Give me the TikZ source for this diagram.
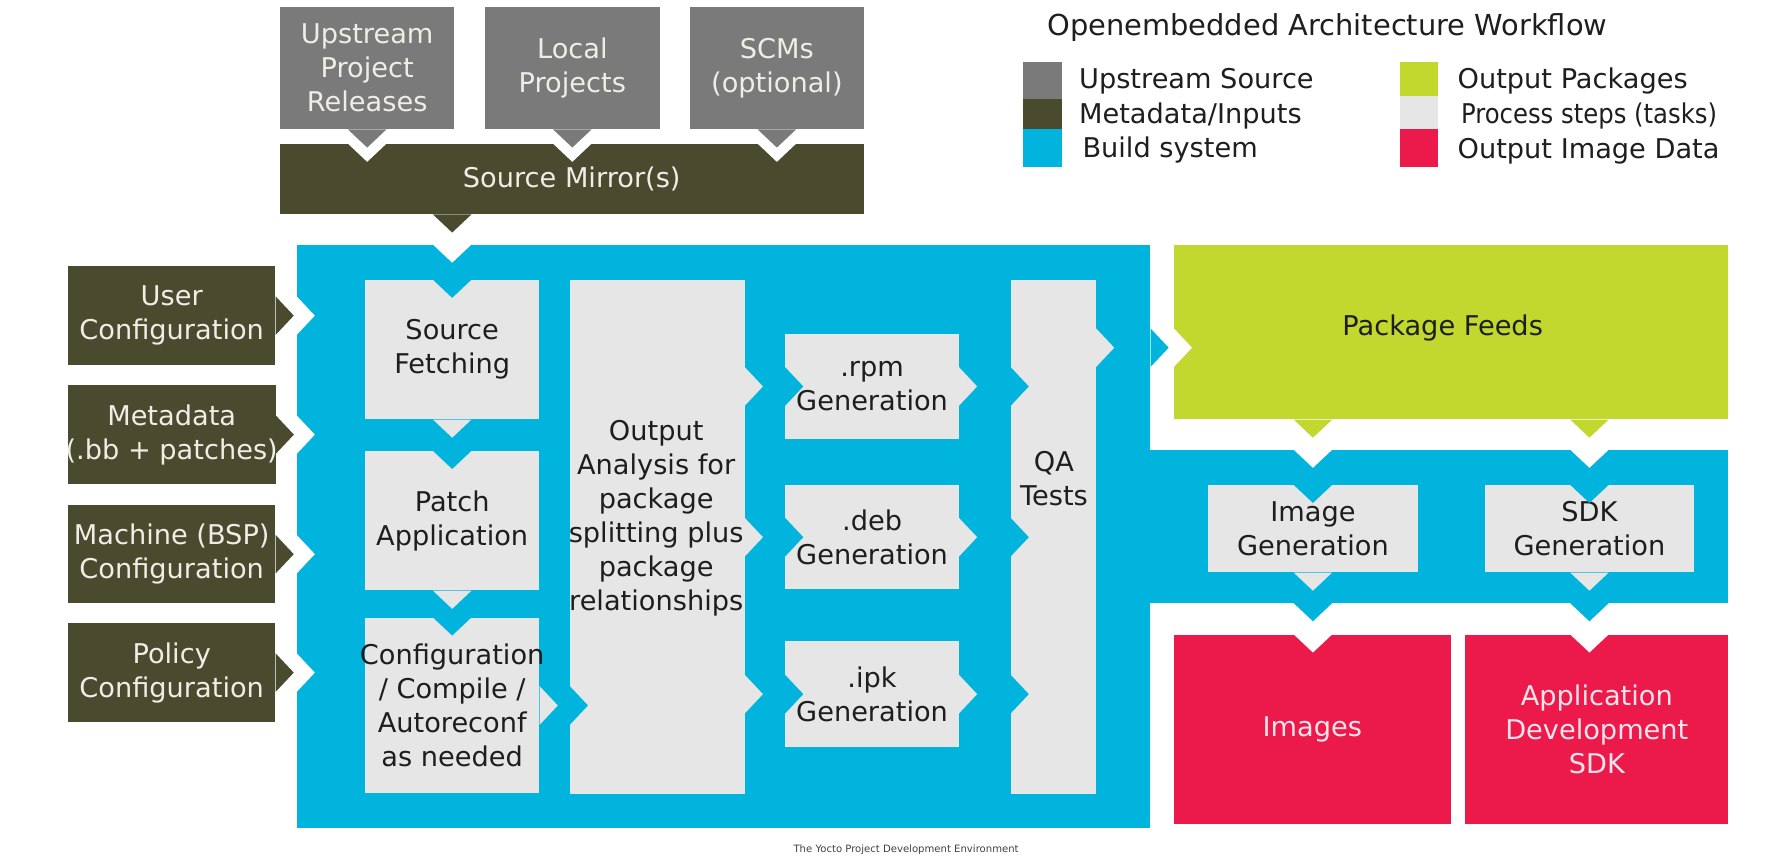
\documentclass[tikz,border=0pt]{standalone}
\usepackage{fontspec}
\setmainfont{DejaVu Sans}
\usetikzlibrary{calc}
\definecolor{srcgrey}{HTML}{7A7A7A}
\definecolor{metaolive}{HTML}{4A4A2F}
\definecolor{buildblue}{HTML}{00B4DD}
\definecolor{pkggreen}{HTML}{C2D82E}
\definecolor{procgrey}{HTML}{E6E6E6}
\definecolor{imgred}{HTML}{EC1A4B}
\definecolor{lighttext}{HTML}{EEEEE6}
\definecolor{darktext}{HTML}{1E1E1E}
\definecolor{redtext}{HTML}{FCE4EA}
\tikzset{box/.style={rectangle, inner sep=0pt, align=center, font=\fontsize{24}{30}\selectfont},
srcbox/.style={box, fill=srcgrey, text=lighttext, minimum width=154pt, minimum height=108pt},
metabox/.style={box, fill=metaolive, text=lighttext},
buildbox/.style={box, fill=buildblue},
procbox/.style={box, fill=procgrey, text=darktext},
proctext/.style={box, text=darktext},
pkgbox/.style={box, fill=pkggreen, text=darktext},
imgbox/.style={box, fill=imgred, text=redtext},
keybox/.style={rectangle, inner sep=0pt, minimum width=34pt},
keytext/.style={anchor=base west, inner sep=0pt, text=darktext, font=\fontsize{24}{30}\selectfont},
pics/tri/.style={code={\fill[#1] (-17,0) -- (0,16) -- (17,0) -- cycle;}}}

\begin{document}
\begin{tikzpicture}[x=1pt, y=-1pt]
        \useasboundingbox (0,0) rectangle (1568,762.4);

        \node[buildbox, minimum width=753pt, minimum height=515pt] (build) at (638.5,473.5) {};
        \node[buildbox, minimum width=512pt, minimum height=135pt] (band) at (1269,464.5) {};

        \node[srcbox] (up) at (324,60) {Upstream\\Project\\Releases};
        \node[srcbox] (loc) at (505,60) {Local\\Projects};
        \node[srcbox, minimum width=153pt] (scm) at (685.5,60) {SCMs\\(optional)};
        \node[metabox, minimum width=515pt, minimum height=62pt] (mirror) at (504.5,158) {Source Mirror(s)};

        \node[metabox, minimum width=183pt, minimum height=87pt] (user) at (151.5,278.5) {User\\Configuration};
        \node[metabox, minimum width=183pt, minimum height=87pt, inner xsep=-2pt] (meta) at (151.5,383.5) {Metadata\\(.bb + patches)};
        \node[metabox, minimum width=183pt, minimum height=86pt] (mach) at (151.5,489) {Machine (BSP)\\Configuration};
        \node[metabox, minimum width=183pt, minimum height=87pt] (pol) at (151.5,593.5) {Policy\\Configuration};

        \node[procbox, minimum width=154pt, minimum height=123pt] (fetch) at (399,308.5) {Source\\Fetching};
        \node[procbox, minimum width=154pt, minimum height=123pt] (patch) at (399,459.5) {Patch\\Application};
        \node[procbox, minimum width=154pt, minimum height=155pt, inner xsep=-6pt] (config) at (399,622.5) {Configuration\\/ Compile /\\Autoreconf\\as needed};
        \node[procbox, minimum width=154pt, minimum height=454pt] (oa) at (580,474) {};
        \node[proctext] (oatext) at (579,457) {Output\\Analysis for\\package\\splitting plus\\package\\relationships};
        \node[procbox, minimum width=153pt, minimum height=92pt] (rpm) at (769.5,341) {.rpm\\Generation};
        \node[procbox, minimum width=153pt, minimum height=92pt] (deb) at (769.5,474) {.deb\\Generation};
        \node[procbox, minimum width=153pt, minimum height=93pt] (ipk) at (769.5,612.5) {.ipk\\Generation};
        \node[procbox, minimum width=75pt, minimum height=454pt] (qa) at (929.5,474) {};
        \node[proctext] (qatext) at (930,422) {QA\\Tests};

        \node[pkgbox, minimum width=489pt, minimum height=154pt] (feeds) at (1280.5,293) {};
        \node[proctext] (feedstext) at (1273,289) {Package Feeds};
        \node[procbox, minimum width=185pt, minimum height=77pt] (imggen) at (1158.5,466.5) {Image\\Generation};
        \node[procbox, minimum width=185pt, minimum height=77pt] (sdkgen) at (1402.5,466.5) {SDK\\Generation};
        \node[imgbox, minimum width=244pt, minimum height=167pt] (images) at (1158,643.5) {Images};
        \node[imgbox, minimum width=232pt, minimum height=167pt] (appsdk) at (1409,643.5) {Application\\Development\\SDK};

        \node[keytext, font=\fontsize{25.5}{30}\selectfont] (title) at (924,31) {Openembedded Architecture Workflow};
        \node[keybox, fill=srcgrey, minimum height=33pt] (keyup) at (920,70.9) {};
        \node[keybox, fill=metaolive, minimum height=26.6pt] (keymeta) at (920,100.7) {};
        \node[keybox, fill=buildblue, minimum height=33pt] (keybuild) at (920,130.5) {};
        \node[keybox, fill=pkggreen, minimum height=30.3pt] (keypkg) at (1252,69.55) {};
        \node[keybox, fill=procgrey, minimum height=29.3pt] (keyproc) at (1252,99.35) {};
        \node[keybox, fill=imgred, minimum height=33pt] (keyimg) at (1252,130.5) {};
        \node[keytext] at (952,78) {Upstream Source};
        \node[keytext] at (952,109) {Metadata/Inputs};
        \node[keytext] at (955,139) {Build system};
        \node[keytext] at (1286,78) {Output Packages};
        \node[keytext] at (1289,109) {\scalebox{0.895}[1]{Process steps (tasks)}};
        \node[keytext] at (1286,140) {Output Image Data};

        \node[text=darktext!85, font=\fontsize{8.9}{10}\selectfont] (caption) at (799.5,750) {The Yocto Project Development Environment};

        \pic at (mirror.north -| up.south) {tri=white};
        \pic at (mirror.north -| loc.south) {tri=white};
        \pic at (mirror.north -| scm.south) {tri=white};
        \pic at (build.north -| fetch.north) {tri=white};
        \pic[rotate=90] at (build.west |- user.east) {tri=white};
        \pic[rotate=90] at (build.west |- meta.east) {tri=white};
        \pic[rotate=90] at (build.west |- mach.east) {tri=white};
        \pic[rotate=90] at (build.west |- pol.east) {tri=white};
        \pic[rotate=90] at ($(feeds.north west)+(0,91)$) {tri=white};
        \pic at (band.north -| imggen.north) {tri=white};
        \pic at (band.north -| sdkgen.north) {tri=white};
        \pic at (images.north -| imggen.south) {tri=white};
        \pic at (appsdk.north -| sdkgen.south) {tri=white};

        \pic at (up.south) {tri=srcgrey};
        \pic at (loc.south) {tri=srcgrey};
        \pic at (scm.south) {tri=srcgrey};
        \pic at (mirror.south -| fetch.north) {tri=metaolive};
        \pic[rotate=90] at (user.east) {tri=metaolive};
        \pic[rotate=90] at (meta.east) {tri=metaolive};
        \pic[rotate=90] at (mach.east) {tri=metaolive};
        \pic[rotate=90] at (pol.east) {tri=metaolive};

        \pic at (fetch.north) {tri=buildblue};
        \pic at (fetch.south) {tri=procgrey};
        \pic at (patch.north) {tri=buildblue};
        \pic at (patch.south) {tri=procgrey};
        \pic at (config.north) {tri=buildblue};
        \pic[rotate=90] at (config.east) {tri=procgrey};
        \pic[rotate=90] at (oa.west |- config.east) {tri=buildblue};
        \pic[rotate=90] at (oa.east |- rpm.west) {tri=procgrey};
        \pic[rotate=90] at (oa.east |- deb.west) {tri=procgrey};
        \pic[rotate=90] at (oa.east |- ipk.west) {tri=procgrey};
        \pic[rotate=90] at (rpm.west) {tri=buildblue};
        \pic[rotate=90] at (deb.west) {tri=buildblue};
        \pic[rotate=90] at (ipk.west) {tri=buildblue};
        \pic[rotate=90] at (rpm.east) {tri=procgrey};
        \pic[rotate=90] at (deb.east) {tri=procgrey};
        \pic[rotate=90] at (ipk.east) {tri=procgrey};
        \pic[rotate=90] at (qa.west |- rpm.east) {tri=buildblue};
        \pic[rotate=90] at (qa.west |- deb.east) {tri=buildblue};
        \pic[rotate=90] at (qa.west |- ipk.east) {tri=buildblue};
        \pic[rotate=90] at ($(qa.north east)+(0,60)$) {tri=procgrey};
        \pic[rotate=90] at ($(build.north east)+(0,91)$) {tri=buildblue};

        \pic at (feeds.south -| imggen.north) {tri=pkggreen};
        \pic at (feeds.south -| sdkgen.north) {tri=pkggreen};
        \pic at (imggen.north) {tri=buildblue};
        \pic at (sdkgen.north) {tri=buildblue};
        \pic at (imggen.south) {tri=procgrey};
        \pic at (sdkgen.south) {tri=procgrey};
        \pic at (band.south -| imggen.south) {tri=buildblue};
        \pic at (band.south -| sdkgen.south) {tri=buildblue};
\end{tikzpicture}
\end{document}
